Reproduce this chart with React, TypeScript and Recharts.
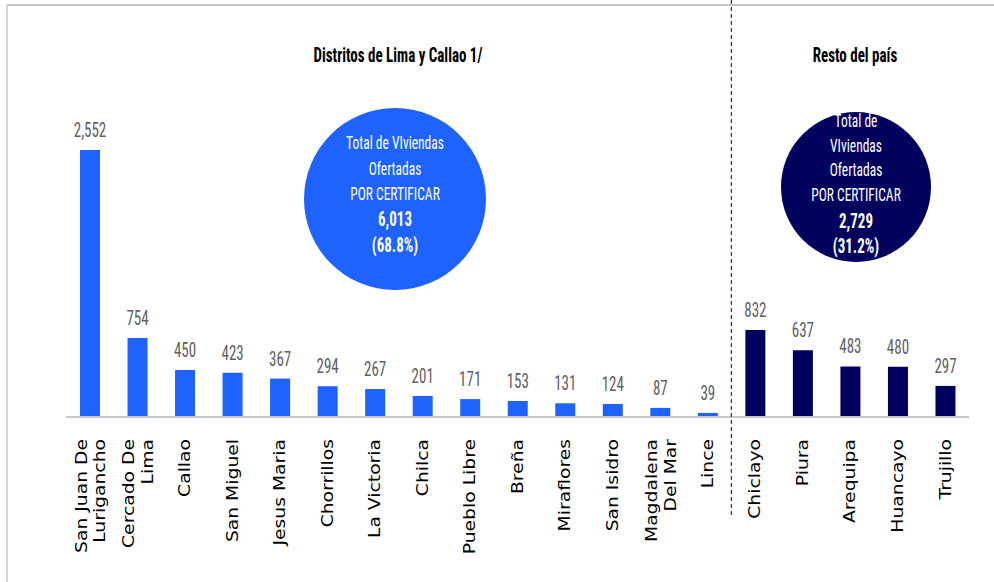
import { BarChart, Bar, XAxis, YAxis, Cell, LabelList } from "recharts";

// Distritos de Lima y Callao
const limaDistricts = [
  "San Juan De\nLurigancho",
  "Cercado De\nLima",
  "Callao",
  "San Miguel",
  "Jesus Maria",
  "Chorrillos",
  "La Victoria",
  "Chilca",
  "Pueblo Libre",
  "Breña",
  "Miraflores",
  "San Isidro",
  "Magdalena\nDel Mar",
  "Lince",
];
const limaValues = [2552, 754, 450, 423, 367, 294, 267, 201, 171, 153, 131, 124, 87, 39];

// Resto del país
const restoCities = ["Chiclayo", "Piura", "Arequipa", "Huancayo", "Trujillo"];
const restoValues = [832, 637, 483, 480, 297];

const limaTotal = { lines: ["Total de VIviendas", "Ofertadas", "POR CERTIFICAR"], value: "6,013", pct: "(68.8%)" };
const restoTotal = { lines: ["Total de", "VIviendas", "Ofertadas", "POR CERTIFICAR"], value: "2,729", pct: "(31.2%)" };

const BLUE = "#1E62FF";
const NAVY = "#02025E";
const NARROW = "'Liberation Sans Narrow', 'Roboto Condensed', 'Liberation Sans', sans-serif";

const data = [
  ...limaDistricts.map((name, i) => ({ name, value: limaValues[i], group: "lima" })),
  ...restoCities.map((name, i) => ({ name, value: restoValues[i], group: "resto" })),
];

// plot geometry
const W = 994;
const H = 582;
const LEFT = 66;
const RIGHT = 25;
const BAND = (W - LEFT - RIGHT) / data.length;

function RotatedTick(props: any) {
  const { x, y, payload } = props;
  const lines: string[] = String(payload.value).split("\n");
  return (
    <g>
      {lines.map((l, i) => {
        const dx = (i - (lines.length - 1) / 2) * 18.5 + (lines.length > 1 ? 1 : 0);
        return (
          <text
            key={i}
            transform={`translate(${x + dx},${y + 14}) rotate(-90) scale(1.25,1)`}
            textAnchor="end"
            dominantBaseline="central"
            fontFamily="'DejaVu Sans', sans-serif"
            fontSize={15}
            fill="#000"
          >
            {l}
          </text>
        );
      })}
    </g>
  );
}

function ValueLabel(props: any) {
  const { x, y, width, value } = props;
  return (
    <g transform={`translate(${x + width / 2},${y - 13}) scale(1,1.35)`}>
      <text textAnchor="middle" fontFamily={NARROW} fontSize={15} fill="#606060">
        {value.toLocaleString("en-US")}
      </text>
    </g>
  );
}

function StretchText({ x, y, children, bold = false, size = 13.5, fill = "#fff" }: any) {
  return (
    <g transform={`translate(${x},${y}) scale(1,1.35)`}>
      <text textAnchor="middle" dominantBaseline="central" fontFamily={NARROW} fontSize={size} fontWeight={bold ? "bold" : "normal"} fill={fill}>
        {children}
      </text>
    </g>
  );
}

function Overlay() {
  const divX = LEFT + limaDistricts.length * BAND;
  return (
    <svg width={W} height={H} style={{ position: "absolute", left: 0, top: 0, pointerEvents: "none" }}>
      <line x1={7} y1={5} x2={W} y2={5} stroke="#c6c6c6" strokeWidth={2} />
      <line x1={7} y1={5} x2={7} y2={H} stroke="#c6c6c6" strokeWidth={1.5} />
      <line x1={divX} y1={0} x2={divX} y2={515} stroke="#2b2b8f" strokeWidth={1.2} strokeDasharray="4 3" />

      <StretchText x={398} y={55} bold size={15} fill="#000">Distritos de Lima y Callao 1/</StretchText>
      <StretchText x={855} y={55} bold size={15} fill="#000">Resto del país</StretchText>

      <circle cx={395} cy={199} r={91} fill={BLUE} />
      {limaTotal.lines.map((l, i) => (
        <StretchText key={l} x={395} y={143 + i * 25.5}>{l}</StretchText>
      ))}
      <StretchText x={395} y={219} bold size={15}>{limaTotal.value}</StretchText>
      <StretchText x={395} y={245} bold size={15}>{limaTotal.pct}</StretchText>

      <circle cx={856} cy={187} r={75} fill={NAVY} />
      {restoTotal.lines.map((l, i) => (
        <StretchText key={l} x={856} y={121 + i * 24.5}>{l}</StretchText>
      ))}
      <StretchText x={856} y={221} bold size={15}>{restoTotal.value}</StretchText>
      <StretchText x={856} y={246} bold size={15}>{restoTotal.pct}</StretchText>
    </svg>
  );
}

export default function App() {
  return (
    <div style={{ position: "absolute", left: 0, top: 0, width: W, height: H, background: "#fff" }}>
      <BarChart width={W} height={H} data={data} margin={{ top: 103, right: RIGHT, left: LEFT, bottom: 15 }} barCategoryGap={0}>
        <XAxis
          dataKey="name"
          interval={0}
          height={150}
          tickLine={false}
          axisLine={{ stroke: "#c8c8c8", strokeWidth: 2 }}
          tick={<RotatedTick />}
        />
        <YAxis hide width={0} domain={[0, 3000]} />
        <Bar dataKey="value" barSize={20} isAnimationActive={false}>
          {data.map((d, i) => (
            <Cell key={i} fill={d.group === "lima" ? BLUE : NAVY} />
          ))}
          <LabelList dataKey="value" content={<ValueLabel />} />
        </Bar>
      </BarChart>
      <Overlay />
    </div>
  );
}
